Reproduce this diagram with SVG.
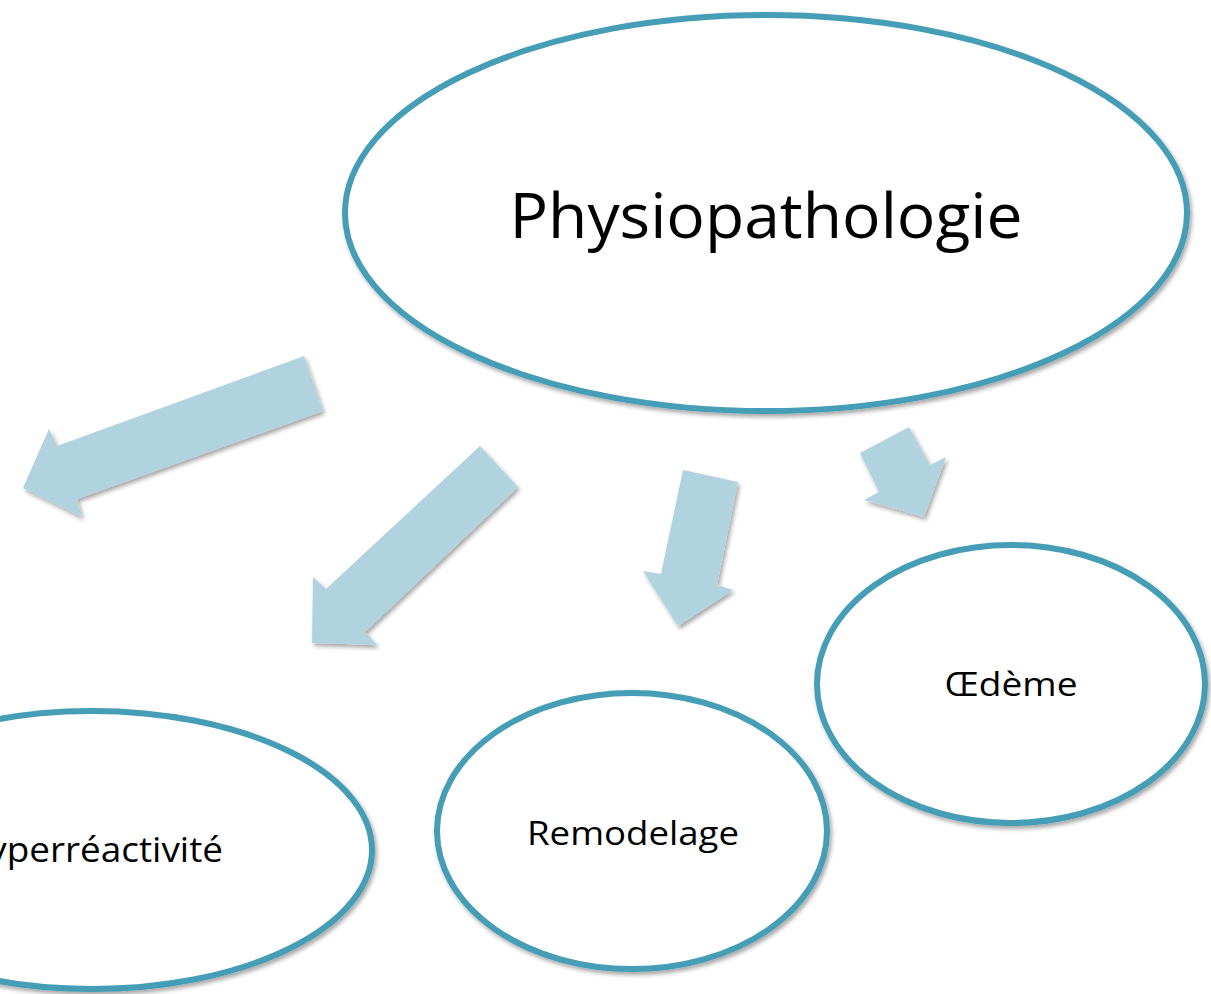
<svg xmlns="http://www.w3.org/2000/svg" width="1211" height="994" viewBox="0 0 1211 994">
<defs>
<filter id="sh" x="-10%" y="-10%" width="120%" height="120%">
<feDropShadow dx="2" dy="3" stdDeviation="2" flood-color="#000" flood-opacity="0.35"/>
</filter>
</defs>
<style>
.node{fill:#fff;stroke:#449db6;stroke-width:6;filter:url(#sh)}
.arr{fill:#b1d3df;filter:url(#sh)}
.lbl{font-family:"Open Sans","Liberation Sans",sans-serif;fill:#000;text-anchor:middle}
</style>
<rect width="1211" height="994" fill="#fff"/>
<g id="connectors">
<polygon class="arr" points="304,356 323,411 77,499 82,517 23,488 49,429 57,446"/>
<polygon class="arr" points="480,446 518,487 365,632 377,645 312,643 313,577 326,589"/>
<polygon class="arr" points="683,470 738,482 717,585 733,590 678,626 643,571 661,574"/>
<polygon class="arr" points="860,453 909,427 930,465 946,457 924,517 864,500 879,492"/>
</g>
<g id="physiopathologie">
<ellipse class="node" cx="766" cy="213" rx="421" ry="198"/>
<text class="lbl" x="766" y="238" font-size="62" textLength="513" lengthAdjust="spacingAndGlyphs">Physiopathologie</text>
</g>
<g id="oedeme">
<ellipse class="node" cx="1011" cy="684" rx="194" ry="139"/>
<text class="lbl" x="1011" y="696" font-size="33" textLength="133" lengthAdjust="spacingAndGlyphs">Œdème</text>
</g>
<g id="remodelage">
<ellipse class="node" cx="632" cy="831" rx="195" ry="138"/>
<text class="lbl" x="633" y="845" font-size="33" textLength="212" lengthAdjust="spacingAndGlyphs">Remodelage</text>
</g>
<g id="hyperreactivite">
<ellipse class="node" cx="92" cy="850" rx="280" ry="139"/>
<text class="lbl" x="92" y="862" font-size="34" textLength="262" lengthAdjust="spacingAndGlyphs">Hyperréactivité</text>
</g>
</svg>
